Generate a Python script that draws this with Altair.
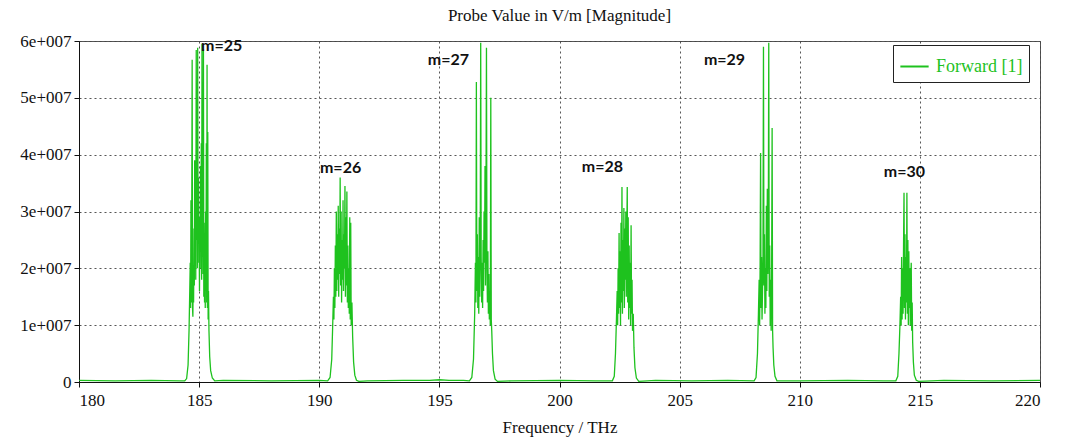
import altair as alt
import pandas as pd

# Probe field magnitude (V/m) versus frequency (THz), one resonance group per mode order m.
GREEN = "#1ec21e"

base_f = [180.0, 181.5, 183.0, 184.2, 186.0, 188.0, 190.0, 192.0, 193.5, 194.6, 195.0, 195.4,
          196.0, 198.0, 200.0, 201.5, 204.0, 205.5, 207.0, 210.0, 212.0, 213.5, 216.0, 218.0, 220.0]
base_v = [0.03, 0.02, 0.03, 0.02, 0.03, 0.02, 0.03, 0.02, 0.03, 0.03, 0.04, 0.03,
          0.03, 0.02, 0.03, 0.02, 0.03, 0.02, 0.03, 0.02, 0.03, 0.02, 0.03, 0.02, 0.03]

f_m25 = [184.40, 184.48, 184.54, 184.58, 184.61, 184.63, 184.645, 184.66, 184.675, 184.69, 184.71,
         184.725, 184.74, 184.755, 184.77, 184.785, 184.80, 184.815, 184.83, 184.845, 184.86, 184.88,
         184.895, 184.91, 184.925, 184.94, 184.955, 184.97, 184.985, 185.00, 185.015, 185.03, 185.045,
         185.06, 185.075, 185.09, 185.105, 185.12, 185.135, 185.15, 185.165, 185.18, 185.195, 185.21,
         185.225, 185.24, 185.255, 185.27, 185.285, 185.30, 185.315, 185.33, 185.345, 185.36, 185.375,
         185.39, 185.41, 185.44, 185.48, 185.55, 185.65]
v_m25 = [0.02, 0.06, 0.3, 0.9, 1.6, 2.1, 1.3, 3.2, 1.4, 2.4, 5.67,
         1.3, 1.15, 2.0, 1.4, 2.7, 1.7, 3.9, 2.1, 3.2, 1.8, 5.84,
         2.5, 4.8, 2.0, 5.88, 2.8, 3.6, 2.1, 2.6, 1.6, 2.9, 2.0,
         3.8, 2.3, 4.2, 1.8, 5.95, 2.2, 3.5, 1.9, 5.85, 1.5, 2.8,
         1.4, 2.0, 1.3, 3.0, 1.6, 4.2, 1.4, 5.58, 1.3, 4.4, 1.1,
         1.6, 0.9, 0.45, 0.2, 0.07, 0.02]

f_m26 = [190.35, 190.45, 190.52, 190.56, 190.59, 190.61, 190.63, 190.65, 190.67, 190.69, 190.71,
         190.73, 190.75, 190.77, 190.79, 190.81, 190.83, 190.85, 190.87, 190.89, 190.91, 190.93,
         190.95, 190.97, 190.99, 191.01, 191.03, 191.05, 191.07, 191.09, 191.11, 191.13, 191.15,
         191.17, 191.19, 191.21, 191.23, 191.25, 191.27, 191.29, 191.31, 191.33, 191.36, 191.39,
         191.43, 191.48, 191.55, 191.65]
v_m26 = [0.02, 0.08, 0.4, 1.0, 1.5, 1.1, 2.0, 1.3, 2.4, 1.5, 3.0,
         1.6, 2.6, 1.8, 3.1, 1.5, 2.7, 1.9, 3.6, 1.7, 3.0, 1.4,
         2.5, 1.8, 3.2, 1.6, 2.6, 2.0, 3.45, 1.5, 2.9, 1.7, 3.35,
         1.4, 2.4, 1.3, 2.0, 1.2, 2.9, 1.1, 2.8, 1.0, 1.4, 0.8,
         0.35, 0.12, 0.03, 0.01]

f_m27 = [196.25, 196.35, 196.42, 196.47, 196.50, 196.52, 196.54, 196.56, 196.58, 196.60, 196.62,
         196.64, 196.66, 196.68, 196.70, 196.72, 196.74, 196.76, 196.78, 196.80, 196.82, 196.84,
         196.86, 196.88, 196.90, 196.92, 196.94, 196.96, 196.98, 197.00, 197.02, 197.04, 197.06,
         197.08, 197.10, 197.12, 197.14, 197.16, 197.18, 197.21, 197.25, 197.32, 197.42]
v_m27 = [0.02, 0.08, 0.4, 1.2, 2.1, 1.4, 5.28, 1.6, 2.6, 1.3, 2.2,
         1.2, 2.9, 1.5, 2.4, 5.97, 2.2, 1.4, 2.1, 1.3, 2.5, 1.6,
         3.0, 2.1, 3.8, 1.7, 3.3, 5.88, 2.0, 1.4, 2.3, 1.2, 1.9,
         1.1, 1.6, 1.0, 5.0, 1.1, 0.9, 0.5, 0.2, 0.05, 0.01]

f_m28 = [202.20, 202.28, 202.33, 202.37, 202.40, 202.42, 202.44, 202.46, 202.48, 202.50, 202.52,
         202.54, 202.56, 202.58, 202.60, 202.62, 202.64, 202.66, 202.68, 202.70, 202.72, 202.74,
         202.76, 202.78, 202.80, 202.82, 202.84, 202.86, 202.88, 202.90, 202.92, 202.94, 202.96,
         202.98, 203.00, 203.02, 203.04, 203.07, 203.10, 203.14, 203.20, 203.30]
v_m28 = [0.02, 0.1, 0.5, 1.1, 1.6, 1.0, 2.0, 1.2, 2.62, 1.3, 2.3,
         1.0, 2.8, 1.4, 3.43, 1.2, 2.5, 1.6, 3.06, 1.3, 2.7, 1.8,
         3.0, 1.5, 2.6, 3.43, 1.4, 2.9, 1.1, 2.4, 1.3, 2.1, 1.0,
         2.76, 1.2, 1.8, 0.9, 1.2, 0.6, 0.25, 0.07, 0.01]

f_m29 = [208.10, 208.18, 208.24, 208.28, 208.31, 208.33, 208.35, 208.37, 208.39, 208.41, 208.43,
         208.45, 208.47, 208.49, 208.51, 208.53, 208.55, 208.57, 208.59, 208.61, 208.63, 208.65,
         208.67, 208.69, 208.71, 208.73, 208.75, 208.77, 208.79, 208.81, 208.83, 208.85, 208.87,
         208.89, 208.92, 208.97, 209.05]
v_m29 = [0.02, 0.08, 0.5, 1.2, 1.8, 1.0, 2.0, 4.03, 1.3, 2.2, 1.1,
         1.6, 2.2, 5.9, 1.7, 2.6, 1.2, 2.0, 1.3, 3.1, 1.6, 3.4,
         1.9, 2.5, 5.97, 1.5, 2.4, 1.0, 1.8, 0.9, 2.0, 4.47, 0.9,
         0.6, 0.3, 0.1, 0.02]

f_m30 = [214.00, 214.08, 214.13, 214.17, 214.20, 214.22, 214.24, 214.26, 214.28, 214.30, 214.32,
         214.34, 214.36, 214.38, 214.40, 214.42, 214.44, 214.46, 214.48, 214.50, 214.52, 214.54,
         214.56, 214.58, 214.60, 214.62, 214.64, 214.66, 214.68, 214.70, 214.73, 214.77, 214.85,
         214.95]
v_m30 = [0.02, 0.1, 0.5, 1.0, 1.5, 1.0, 2.2, 1.1, 2.0, 1.2, 2.4,
         3.33, 1.3, 2.6, 1.1, 2.2, 1.4, 3.33, 1.2, 2.5, 1.0, 2.3,
         1.3, 2.0, 1.0, 1.8, 2.1, 0.9, 1.4, 0.7, 0.35, 0.12, 0.03,
         0.01]

# Mode labels and where they sit (frequency in THz, field in units of 1e7 V/m)
mode_text = ["m=25", "m=26", "m=27", "m=28", "m=29", "m=30"]
mode_f = [185.08, 190.03, 194.52, 200.93, 206.01, 213.5]
mode_v = [5.92, 3.77, 5.67, 3.79, 5.67, 3.70]

x_ticks = [180, 185, 190, 195, 200, 205, 210, 215, 220]
y_ticks = [0, 1e7, 2e7, 3e7, 4e7, 5e7, 6e7]

freq, val = [], []
for f, v in [(base_f, base_v), (f_m25, v_m25), (f_m26, v_m26), (f_m27, v_m27),
             (f_m28, v_m28), (f_m29, v_m29), (f_m30, v_m30)]:
    freq += f
    val += [x * 1e7 for x in v]

df = pd.DataFrame({"freq": freq, "value": val, "series": "Forward [1]"}).sort_values("freq")
labels = pd.DataFrame({"freq": mode_f, "value": [v * 1e7 for v in mode_v], "text": mode_text})

x_enc = alt.X("freq:Q", scale=alt.Scale(domain=[180, 220], nice=False, zero=False),
              axis=alt.Axis(values=x_ticks, title="Frequency / THz", format="d",
                            labelPadding=5, titlePadding=11, tickSize=5))
y_enc = alt.Y("value:Q", scale=alt.Scale(domain=[0, 6e7], nice=False),
              axis=alt.Axis(values=y_ticks, title=None, tickSize=5, labelPadding=3,
                            labelExpr="datum.value == 0 ? '0' : format(datum.value / 1e7, 'd') + 'e+007'"))

line = alt.Chart(df).mark_line(strokeWidth=1.3, interpolate="linear").encode(
    x=x_enc,
    y=y_enc,
    order="freq:Q",
    color=alt.Color("series:N", scale=alt.Scale(range=[GREEN]),
                    legend=alt.Legend(title=None, orient="none", legendX=814, legendY=4,
                                      symbolType="stroke", symbolSize=800, symbolStrokeWidth=2,
                                      labelFont="Liberation Serif", labelFontSize=18,
                                      labelColor=GREEN, fillColor="white", strokeColor="#222",
                                      padding=6, labelOffset=6)),
)

text = alt.Chart(labels).mark_text(align="left", baseline="middle", font="Lato",
                                   fontWeight="bold", fontSize=16, color="#111").encode(
    x="freq:Q", y="value:Q", text="text:N")

chart = alt.layer(line, text).properties(
    width=961, height=341,
    background="white",
    title=alt.TitleParams("Probe Value in V/m [Magnitude]", font="Liberation Serif",
                          fontSize=17, fontWeight="normal", color="#111", offset=7),
    autosize="none",
    padding={"left": 79, "top": 41, "right": 30, "bottom": 57},
).configure_view(stroke="#555", strokeWidth=1).configure_axis(
    labelFont="Liberation Serif", labelFontSize=17, labelColor="#111",
    titleFont="Liberation Serif", titleFontSize=17, titleFontWeight="normal", titleColor="#111",
    domainColor="#111", tickColor="#111", grid=True, gridColor="#444", gridDash=[2, 3],
    gridWidth=1, gridOpacity=0.9,
)

chart.save("out.html", embed_options={"renderer": "svg", "actions": False})
